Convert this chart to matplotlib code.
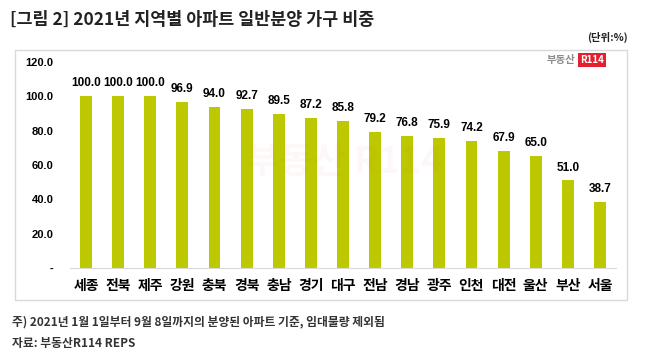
import matplotlib

matplotlib.use("Agg")

import matplotlib.pyplot as plt
from matplotlib.patches import Rectangle

plt.rcParams["font.family"] = ["Noto Sans CJK KR", "DejaVu Sans"]

regions = ["세종", "전북", "제주", "강원", "충북", "경북", "충남", "경기", "대구",
           "전남", "경남", "광주", "인천", "대전", "울산", "부산", "서울"]
shares = [100.0, 100.0, 100.0, 96.9, 94.0, 92.7, 89.5, 87.2, 85.8,
          79.2, 76.8, 75.9, 74.2, 67.9, 65.0, 51.0, 38.7]
y_ticks = [0, 20, 40, 60, 80, 100, 120]
y_tick_labels = ["-", "20.0", "40.0", "60.0", "80.0", "100.0", "120.0"]

BAR_COLOR = "#BCC800"

fig = plt.figure(figsize=(6.5, 3.61), dpi=100)

# outer frame around the chart
fig.patches.append(Rectangle((15 / 650, 1 - 300 / 361), 612 / 650, 250 / 361,
                             transform=fig.transFigure, fill=False,
                             edgecolor="#d9d9d9", linewidth=1))

ax = fig.add_axes([70 / 650, 1 - 268 / 361, 546 / 650, 0.571])
x = range(len(regions))
ax.bar(x, shares, width=0.37, color=BAR_COLOR, zorder=2)

for xi, v in zip(x, shares):
    ax.text(xi, v + 4, f"{v:.1f}", ha="center", va="bottom",
            fontsize=8.5, fontweight="bold", family="Liberation Sans")

ax.set_xlim(-0.5, len(regions) - 0.5)
ax.set_ylim(0, 120)
ax.set_yticks(y_ticks)
ax.set_yticklabels(y_tick_labels, fontsize=8, fontweight="bold", family="Liberation Sans")
ax.set_xticks(list(x))
ax.set_xticklabels(regions, fontsize=10, fontweight="black")
ax.tick_params(axis="both", length=0)
ax.tick_params(axis="y", pad=12)
ax.tick_params(axis="x", pad=8)
for side in ["top", "right", "left"]:
    ax.spines[side].set_visible(False)
ax.spines["bottom"].set_color("#d9d9d9")

# very faint watermark in the middle
fig.text(0.53, 0.55, "부동산 R114", ha="center", va="center", fontsize=26,
         fontweight="bold", color="#e63946", alpha=0.04)

# logo top right
fig.text(575 / 650, 1 - 60 / 361, "부동산", ha="right", va="center",
         fontsize=7.5, color="#8c8c8c", fontweight="bold")
fig.text(592 / 650, 1 - 60 / 361, "R114", ha="center", va="center",
         fontsize=7, color="white", fontweight="bold",
         bbox=dict(boxstyle="square,pad=0.25", facecolor="#e5202e", edgecolor="none"))

fig.text(10 / 650, 1 - 20 / 361, "[그림 2] 2021년 지역별 아파트 일반분양 가구 비중",
         ha="left", va="center", fontsize=12.5, fontweight="bold", color="#222222")
fig.text(628 / 650, 1 - 37 / 361, "(단위:%)", ha="right", va="center",
         fontsize=7.5, fontweight="bold", color="#222222")

fig.text(12 / 650, 1 - 322 / 361,
         "주) 2021년 1월 1일부터 9월 8일까지의 분양된 아파트 기준, 임대물량 제외됨",
         ha="left", va="center", fontsize=8.5, fontweight="bold", color="#333333")
fig.text(12 / 650, 1 - 344 / 361, "자료: 부동산R114 REPS",
         ha="left", va="center", fontsize=8.5, fontweight="bold", color="#333333")

fig.savefig("out.png", dpi=100)
